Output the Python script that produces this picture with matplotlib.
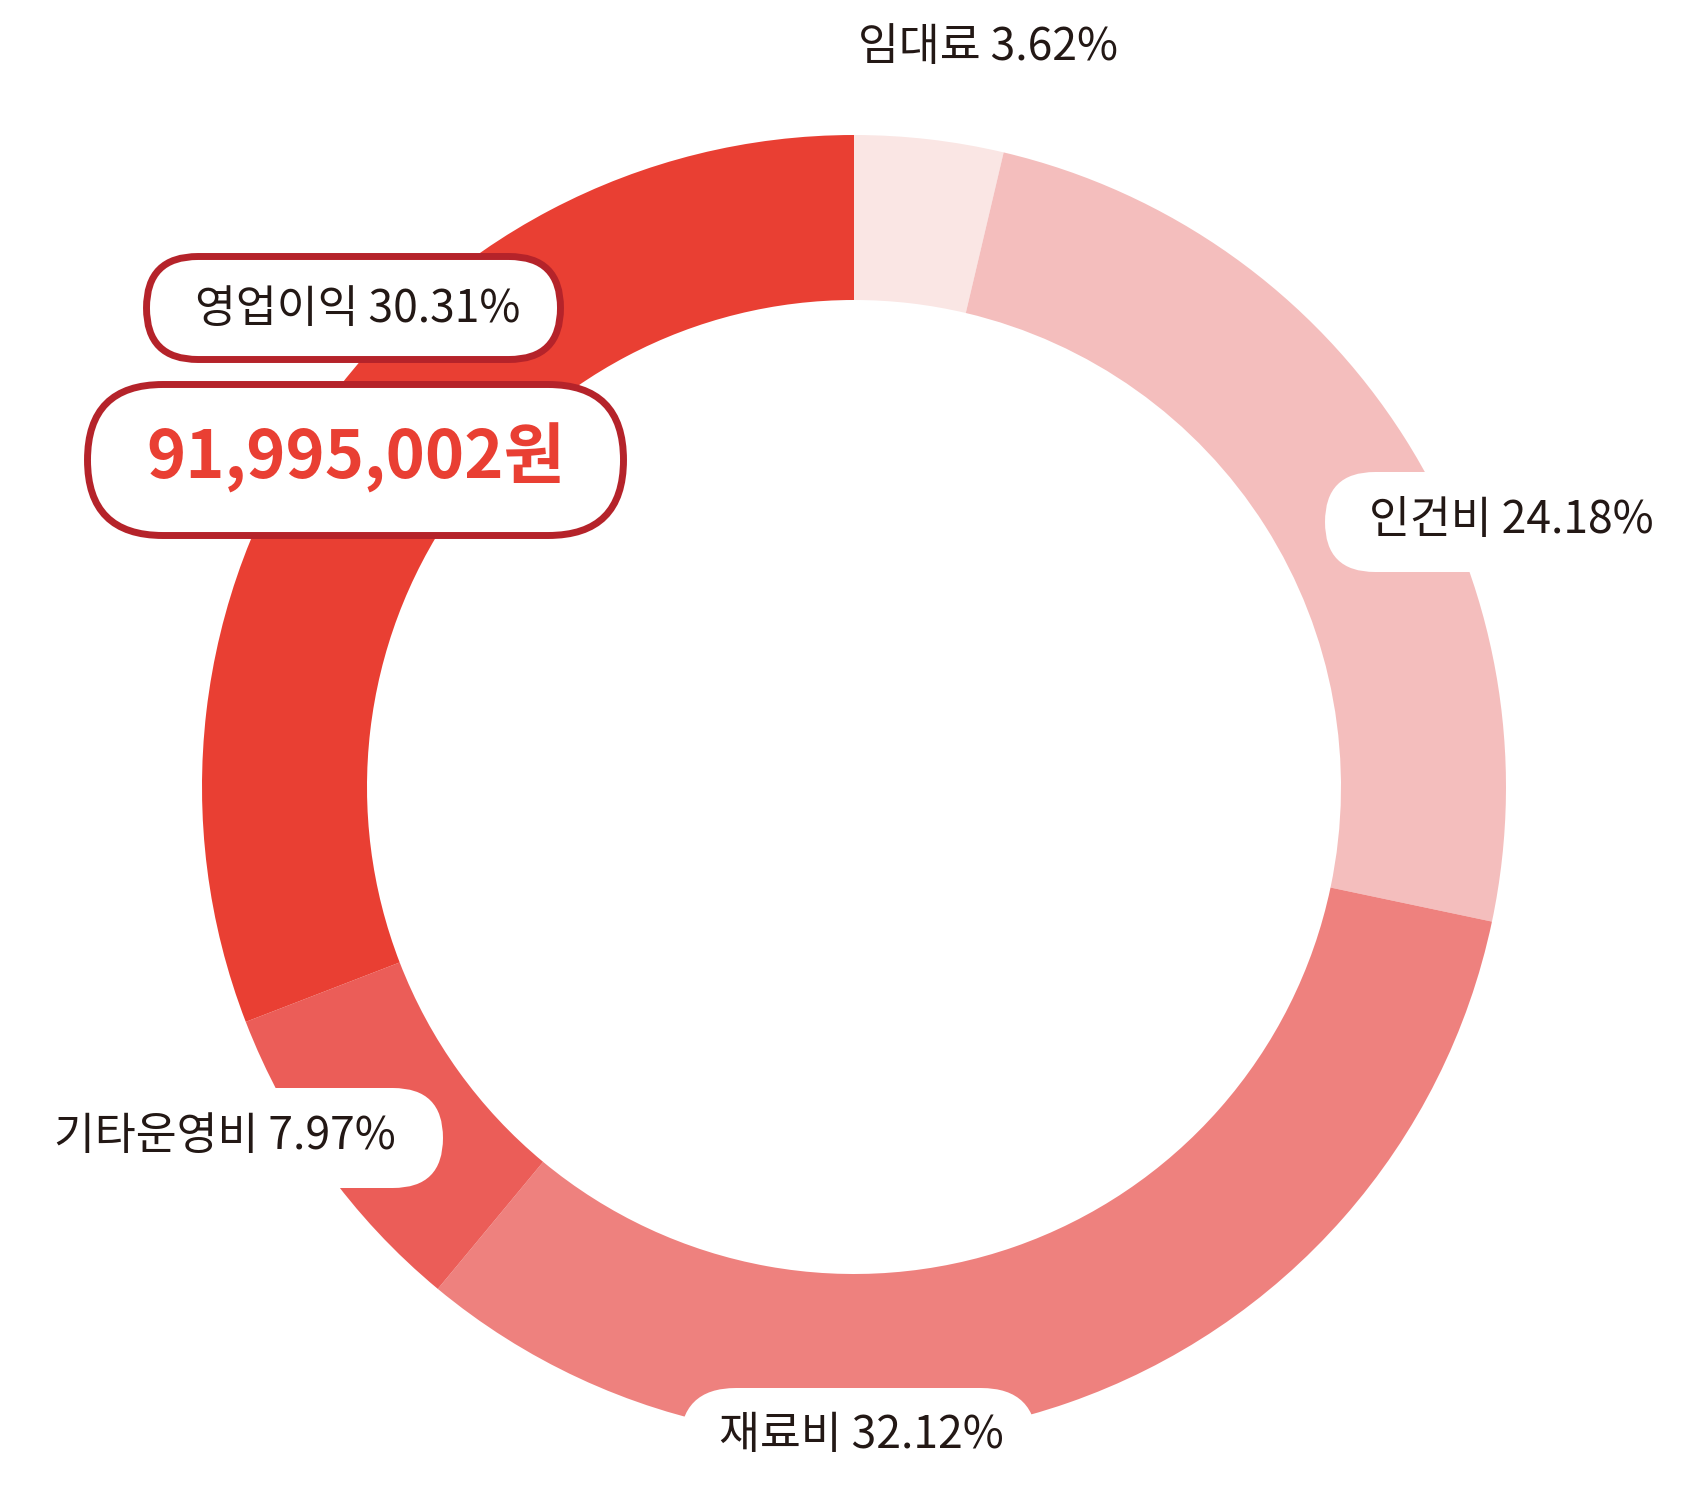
import matplotlib.pyplot as plt
from matplotlib.patches import FancyBboxPatch

plt.rcParams['font.family'] = ['Noto Sans CJK KR', 'DejaVu Sans']

categories = ['임대료', '인건비', '재료비', '기타운영비', '영업이익']
shares = [3.62, 24.18, 32.12, 7.97, 30.31]
colors = ['#FAE6E4', '#F4BEBD', '#EE817E', '#EB5D58', '#E93F33']
total_label = '91,995,002원'

W, H = 1691, 1489
TEXT = '#231815'
EDGE = '#B5232A'

fig = plt.figure(figsize=(W / 100, H / 100), dpi=100)
ax = fig.add_axes([0, 0, 1, 1])


def y(py):
    # pixel row (top-down) -> data y
    return H - py


ax.pie(shares, colors=colors, startangle=90, counterclock=False,
       center=(854, y(787)), radius=652, frame=True,
       wedgeprops=dict(width=165, linewidth=0))
ax.set_xlim(0, W)
ax.set_ylim(0, H)
ax.axis('off')


def pill(x0, x1, top, bottom, edge=None, lw=0):
    h = bottom - top
    p = FancyBboxPatch((x0, y(bottom)), x1 - x0, h,
                       boxstyle=f'round,pad=0,rounding_size={h / 2}',
                       facecolor='white',
                       edgecolor=edge if edge else 'none',
                       linewidth=lw, zorder=3)
    ax.add_patch(p)


def label(i, x, py):
    ax.text(x, y(py), f'{categories[i]} {shares[i]:.2f}%', ha='center',
            va='center', fontsize=32, fontweight='medium', color=TEXT,
            zorder=4)


# 임대료 (no box)
label(0, 988, 47)

# 인건비
pill(1325, 1760, 472, 572)
label(1, 1511, 520)

# 재료비
pill(680, 1037, 1388, 1500)
label(2, 861, 1435)

# 기타운영비
pill(-60, 443, 1088, 1188)
label(3, 225, 1136)

# 영업이익 + total
pill(146.5, 560.5, 256.5, 359.5, edge=EDGE, lw=5)
label(4, 358, 309)

pill(87.5, 623.5, 384.5, 535.5, edge=EDGE, lw=5)
ax.text(356, y(458), total_label, ha='center', va='center', fontsize=48,
        fontweight='bold', color='#E93F33', zorder=4)

fig.savefig('out.png', dpi=100)
